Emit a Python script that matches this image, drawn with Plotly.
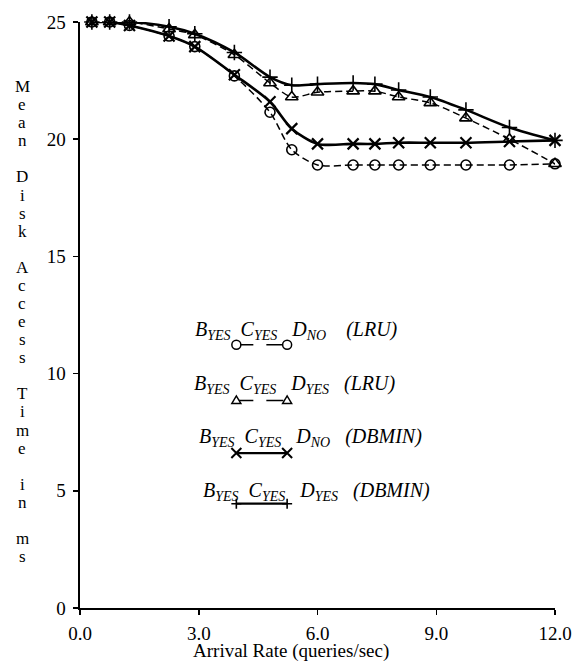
import plotly.graph_objects as go

# ---------------- data ----------------
arrival_rate = [0.3, 0.75, 1.25, 2.25, 2.9, 3.9, 4.8, 5.35, 6.0, 6.9, 7.45, 8.05, 8.85, 9.75, 10.85, 12.0]
lru_dno = [25.0, 25.0, 24.85, 24.4, 23.95, 22.7, 21.15, 19.55, 18.9, 18.9, 18.9, 18.9, 18.9, 18.9, 18.9, 18.95]
lru_dyes = [25.0, 25.0, 25.0, 24.7, 24.45, 23.6, 22.4, 21.8, 22.0, 22.05, 22.05, 21.8, 21.55, 20.9, 20.0, 18.95]
dbmin_dno = [25.0, 25.0, 24.85, 24.4, 23.95, 22.75, 21.6, 20.45, 19.8, 19.8, 19.8, 19.85, 19.85, 19.85, 19.9, 19.95]
dbmin_dyes = [25.0, 25.0, 25.0, 24.8, 24.5, 23.7, 22.65, 22.3, 22.35, 22.4, 22.35, 22.1, 21.8, 21.25, 20.5, 19.95]

x_tick_vals = [0, 3, 6, 9, 12]
x_tick_text = ["0.0", "3.0", "6.0", "9.0", "12.0"]
y_tick_vals = [0, 5, 10, 15, 20, 25]
y_tick_text = ["0", "5", "10", "15", "20", "25"]

SP2 = "&nbsp;&nbsp;"
SP3 = "&nbsp;&nbsp;&nbsp;"
SP4 = "&nbsp;&nbsp;&nbsp;&nbsp;"
legend_labels = [
    "<i>B<sub>YES</sub>" + SP2 + "C<sub>YES</sub>" + SP3 + "D<sub>NO</sub>" + SP4 + "(LRU)</i>",
    "<i>B<sub>YES</sub>" + SP2 + "C<sub>YES</sub>" + SP3 + "D<sub>YES</sub>" + SP3 + "(LRU)</i>",
    "<i>B<sub>YES</sub>" + SP2 + "C<sub>YES</sub>" + SP3 + "D<sub>NO</sub>" + SP3 + "(DBMIN)</i>",
    "<i>B<sub>YES</sub>" + SP2 + "C<sub>YES</sub>" + SP3 + "D<sub>YES</sub>" + SP3 + "(DBMIN)</i>",
]
y_title = "Mean Disk Access Time in ms"
x_title = "Arrival Rate (queries/sec)"

# ---------------- layout geometry (pixels) ----------------
W, H = 584, 662
L, R, T, B = 80, 27, 18, 54
PW, PH = W - L - R, H - T - B
FONT = "Liberation Serif, Times New Roman, serif"


def pxx(px):
    return (px - L) / PW


def pxy(py):
    return (H - B - py) / PH


fig = go.Figure()

series = [
    (lru_dno, dict(symbol="circle-open", size=10, line=dict(width=1.6, color="black")), dict(width=1.5, dash="7px,4px")),
    (lru_dyes, dict(symbol="triangle-up-open", size=11, line=dict(width=1.6, color="black")), dict(width=1.5, dash="7px,4px")),
    (dbmin_dno, dict(symbol="x-thin-open", size=11, line=dict(width=2.2, color="black")), dict(width=2.6)),
    (dbmin_dyes, dict(symbol="cross-thin-open", size=11, line=dict(width=1.6, color="black")), dict(width=2.6)),
]
for vals, mk, ln in series:
    fig.add_trace(go.Scatter(
        x=arrival_rate, y=vals, mode="lines+markers",
        line=dict(color="black", shape="spline", smoothing=0.8, **ln),
        marker=dict(color="black", **mk),
        cliponaxis=False, showlegend=False, hoverinfo="skip",
    ))

fig.update_layout(
    width=W, height=H,
    margin=dict(l=L, r=R, t=T, b=B),
    paper_bgcolor="white", plot_bgcolor="white",
    font=dict(family=FONT, color="black", size=18),
    showlegend=False,
)
fig.update_xaxes(
    range=[0, 12], tickvals=x_tick_vals, ticktext=x_tick_text,
    showline=True, linecolor="black", linewidth=2, mirror=False,
    ticks="outside", ticklen=5, tickwidth=1.5, tickcolor="black",
    showgrid=False, zeroline=False, ticklabelstandoff=2,
    tickfont=dict(family=FONT, size=19, color="black"),
)
fig.update_yaxes(
    range=[0, 25], tickvals=y_tick_vals, ticktext=y_tick_text,
    showline=True, linecolor="black", linewidth=2.5,
    ticks="outside", ticklen=5, tickwidth=1.5, tickcolor="black",
    showgrid=False, zeroline=False, ticklabelstandoff=3,
    tickfont=dict(family=FONT, size=19, color="black"),
)

annotations = []
# vertical stacked y title, one letter per line, blank line between words
line_pitch = 18.2
py = 83
for word in y_title.split(" "):
    for ch in word:
        annotations.append(dict(
            text=ch, xref="paper", yref="paper", x=pxx(22), y=pxy(py),
            xanchor="center", yanchor="middle", showarrow=False, borderpad=0,
            font=dict(family=FONT, size=17, color="black"),
        ))
        py += line_pitch
    py += line_pitch

# x title
annotations.append(dict(
    text=x_title, xref="paper", yref="paper", x=pxx(292), y=pxy(651),
    xanchor="center", yanchor="middle", showarrow=False, borderpad=0,
    font=dict(family=FONT, size=19, color="black"),
))

# custom legend (text with key line beneath the subscripts)
text_pos = [(193, 329), (192, 383), (197, 436), (202, 491)]
key_y = [343, 399, 452, 503]
key_x0, key_x1 = 237, 288
shapes = []
for i, lab in enumerate(legend_labels):
    tx, ty = text_pos[i]
    annotations.append(dict(
        text=lab, xref="paper", yref="paper", x=pxx(tx), y=pxy(ty),
        xanchor="left", yanchor="middle", showarrow=False,
        font=dict(family=FONT, size=20, color="black"),
    ))
    ky = key_y[i]
    if i < 2:
        ln = dict(color="black", width=1.5, dash="17px,13px")
    else:
        ln = dict(color="black", width=2.2)
    shapes.append(dict(type="line", xref="paper", yref="paper",
                       x0=pxx(key_x0), x1=pxx(key_x1), y0=pxy(ky), y1=pxy(ky), line=ln))
    for kx in (key_x0, key_x1):
        base = dict(xref="paper", yref="paper", xsizemode="pixel", ysizemode="pixel",
                    xanchor=pxx(kx), yanchor=pxy(ky))
        if i == 0:
            shapes.append(dict(type="circle", x0=-4.5, x1=4.5, y0=-4.5, y1=4.5,
                               line=dict(color="black", width=1.5), fillcolor="white", **base))
        elif i == 1:
            shapes.append(dict(type="path", path="M -4.5,-3 L 4.5,-3 L 0,4.5 Z",
                               line=dict(color="black", width=1.5), fillcolor="white", **base))
        elif i == 2:
            shapes.append(dict(type="path", path="M -5,-5 L 5,5 M -5,5 L 5,-5",
                               line=dict(color="black", width=2), **base))
        else:
            shapes.append(dict(type="path", path="M -5,0 L 5,0 M 0,-5 L 0,5",
                               line=dict(color="black", width=1.6), **base))

fig.update_layout(annotations=annotations, shapes=shapes)
fig.write_html(
    "out.html",
    config={"displayModeBar": False, "staticPlot": True},
    post_script="document.body.style.margin='0';document.body.style.padding='0';",
)
